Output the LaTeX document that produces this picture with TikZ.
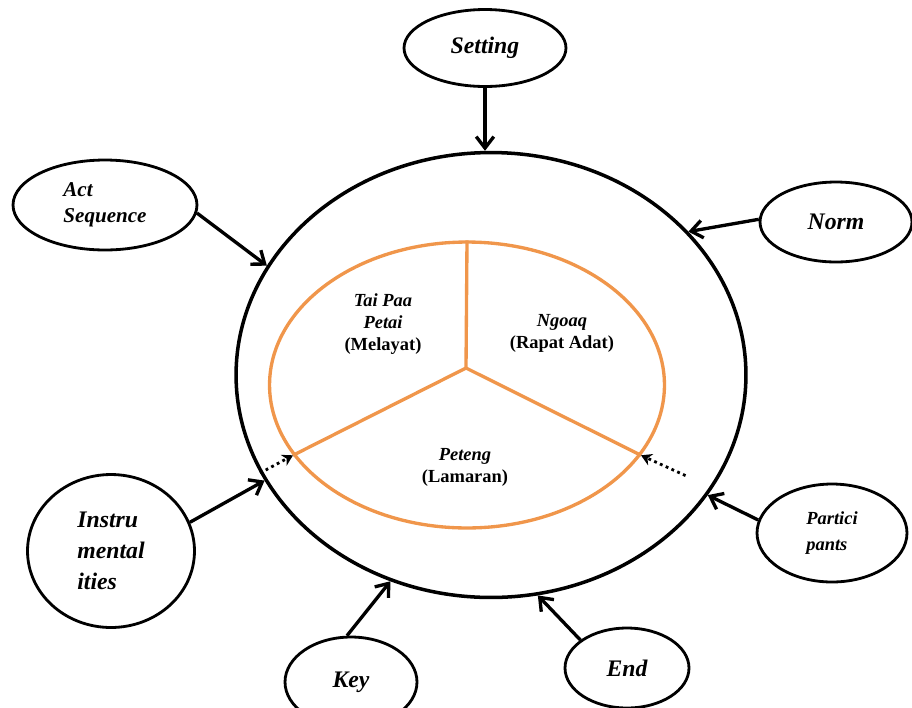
\documentclass[tikz,border=0pt]{standalone}
\usepackage{fontspec}
\setmainfont{Liberation Serif}
\usetikzlibrary{arrows.meta,shapes.geometric,calc}
\definecolor{spokeorange}{RGB}{240,150,75}

\begin{document}
\begin{tikzpicture}[
  x=0.02cm, y=-0.02cm,
  aspect/.style={ellipse, draw, line width=1.6pt, inner sep=0pt, align=left, font=\fontsize{13.5}{17}\selectfont\bfseries\itshape},
  inner/.style={align=center, font=\fontsize{10.5}{12.5}\selectfont\bfseries},
  feed/.style={-{Straight Barb[length=6.5pt,width=10pt]}, line width=1.9pt},
  hint/.style={-{Stealth[length=6pt,width=7pt]}, line width=1.6pt, dotted},
  spokeline/.style={draw=spokeorange, line width=1.9pt}
]
\useasboundingbox (0,0) rectangle (912,707);
\clip (0,0) rectangle (912,707);

% Event circle
\node[draw, ellipse, line width=2pt, minimum width=10.2cm, minimum height=8.9cm] (scene) at (491,375) {};
\node[draw=spokeorange, ellipse, line width=1.9pt, minimum width=7.9cm, minimum height=5.72cm] (event) at (467,385) {};
\coordinate (hub) at (466,368);
\draw[spokeline] (hub) -- (event.north);
\draw[spokeline] (hub) -- (event.202);
\draw[spokeline] (hub) -- (event.-22);

% Events
\node[inner] (melayat) at (383,324) {\textit{Tai Paa}\\\textit{Petai}\\(Melayat)};
\node[inner] (rapat) at (562,333) {\textit{Ngoaq}\\(Rapat Adat)};
\node[inner] (lamaran) at (465,467) {\textit{Peteng}\\(Lamaran)};

% Components
\node[aspect, minimum width=3.24cm, minimum height=1.54cm] (setting) at (485,48) {Setting};
\node[aspect, minimum width=3.68cm, minimum height=1.8cm, font=\fontsize{12}{15}\selectfont\bfseries\itshape] (actseq) at (105,205) {Act\\Sequence};
\node[aspect, minimum width=3.04cm, minimum height=1.6cm] (norm) at (836,222) {Norm};
\node[aspect, minimum width=3.34cm, minimum height=3.06cm, font=\fontsize{13.5}{17.5}\selectfont\bfseries\itshape] (instr) at (111,551) {Instru\\mental\\ities};
\node[aspect, minimum width=3cm, minimum height=1.96cm, font=\fontsize{10.5}{15}\selectfont\bfseries\itshape] (partic) at (832,533) {Partici\\pants};
\node[aspect, minimum width=2.64cm, minimum height=1.8cm] (key) at (351,682) {Key};
\node[aspect, minimum width=2.48cm, minimum height=1.6cm] (endn) at (627,668) {End};

\draw[feed] (setting.south) -- (setting.south |- scene.north);
\draw[feed] (actseq.-5) -- (scene.154);
\draw[feed] (norm.178) -- (scene.36);
\draw[feed] (instr.20) -- (scene.205);
\draw[feed] (partic.170) -- (scene.-29);
\draw[feed] (key.95) -- (scene.-116);
\draw[feed] (endn.149) -- (scene.-78);

\draw[hint] (scene.203) -- (event.202);
\draw[hint, shorten <=17pt] (scene.-27) -- (event.-22);
\end{tikzpicture}
\end{document}
